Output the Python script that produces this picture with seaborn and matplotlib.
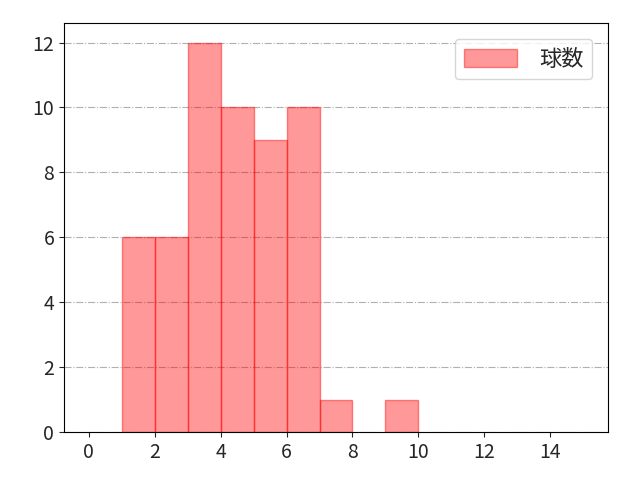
import numpy as np
import matplotlib
matplotlib.use("Agg")
import matplotlib.pyplot as plt
import seaborn as sns

sns.set_style("ticks")
plt.rcParams['font.family'] = ['Noto Sans CJK JP', 'DejaVu Sans']

# 球数の分布 (ビン幅 1)
bin_edges = list(range(1, 11))
bin_left = [1, 2, 3, 4, 5, 6, 7, 8, 9]
counts = [6, 6, 12, 10, 9, 10, 1, 0, 1]

fig, ax = plt.subplots(figsize=(6.4, 4.8), dpi=100)
sns.histplot(x=[b + 0.5 for b in bin_left], weights=counts, bins=bin_edges,
             color="red", alpha=0.4, edgecolor=(1, 0, 0, 0.45), linewidth=1,
             label="球数", ax=ax)
# 0件のビンは描かない
for p in ax.patches:
    if p.get_height() == 0:
        p.set_visible(False)

ax.set_xlim(-0.75, 15.75)
ax.set_ylim(0, 12.6)
ax.set_xticks(range(0, 16, 2))
ax.set_yticks(range(0, 13, 2))
ax.set_xlabel("")
ax.set_ylabel("")
ax.grid(axis="y", linestyle="-.", color="#b0b0b0", linewidth=0.8)
ax.set_axisbelow(True)
for s in ax.spines.values():
    s.set_visible(True)
    s.set_color("black")
ax.tick_params(labelsize=14)
ax.legend(loc="upper right", fontsize=16, handlelength=2.4, handleheight=0.9,
          handletextpad=1.0, borderaxespad=0.7)

fig.subplots_adjust(left=0.1, right=0.95, top=0.952, bottom=0.1)
plt.savefig("out.png", dpi=100)
